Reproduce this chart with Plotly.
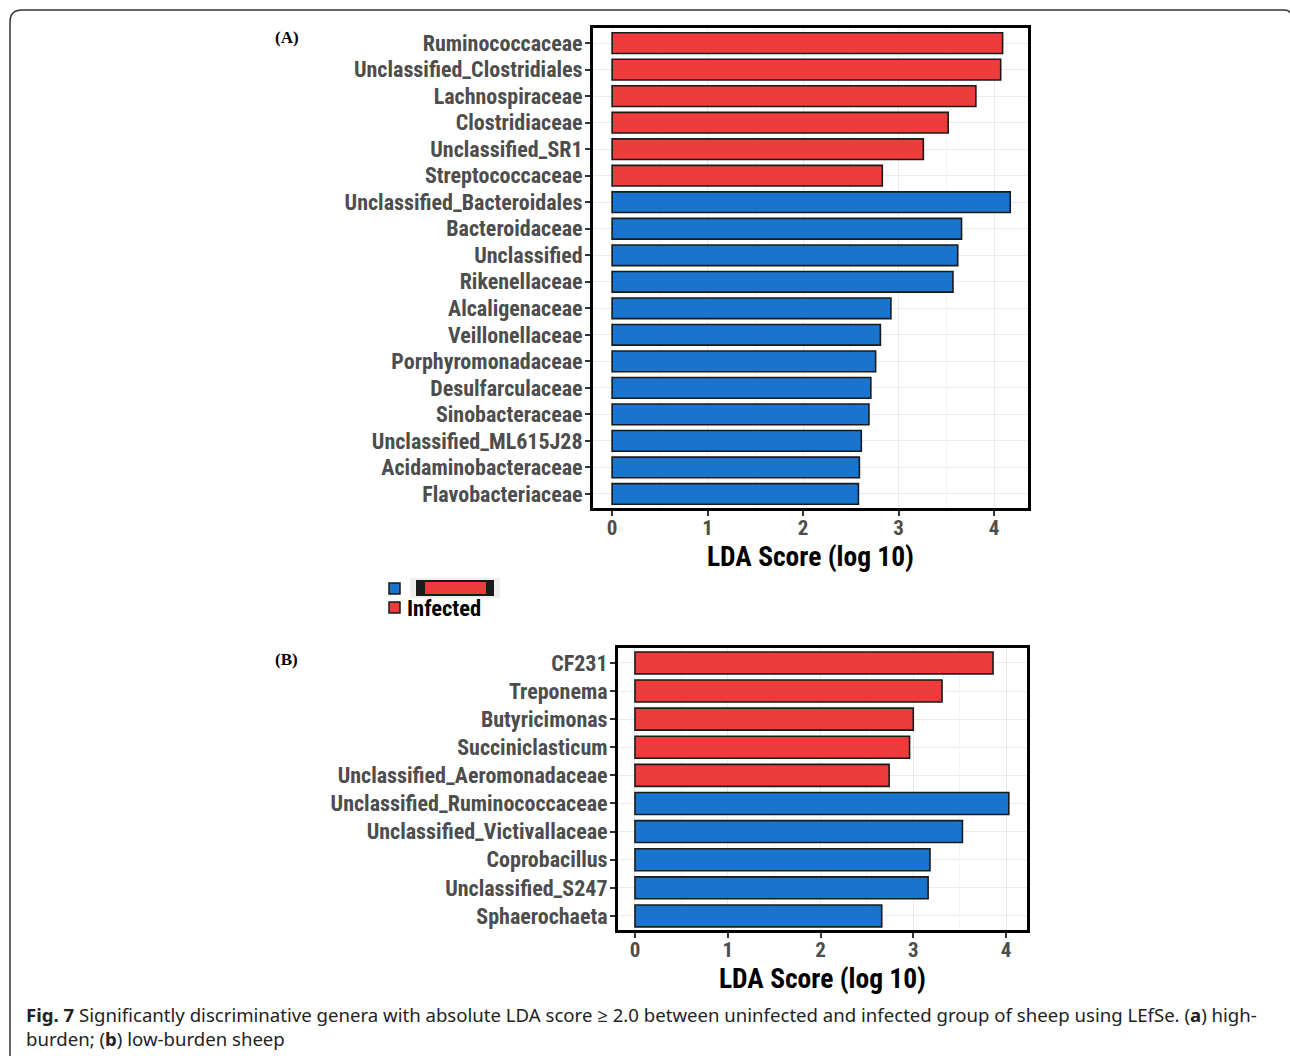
import plotly.graph_objects as go

W, H = 1290, 1056

# Panel A: high-burden sheep
genera_a = [
    "Ruminococcaceae", "Unclassified_Clostridiales", "Lachnospiraceae",
    "Clostridiaceae", "Unclassified_SR1", "Streptococcaceae",
    "Unclassified_Bacteroidales", "Bacteroidaceae", "Unclassified",
    "Rikenellaceae", "Alcaligenaceae", "Veillonellaceae",
    "Porphyromonadaceae", "Desulfarculaceae", "Sinobacteraceae",
    "Unclassified_ML615J28", "Acidaminobacteraceae", "Flavobacteriaceae",
]
lda_a = [4.09, 4.07, 3.81, 3.52, 3.26, 2.83,
         4.17, 3.66, 3.62, 3.57, 2.92, 2.81,
         2.76, 2.71, 2.69, 2.61, 2.59, 2.58]
group_a = ["Infected"] * 6 + ["Uninfected"] * 12

# Panel B: low-burden sheep
genera_b = [
    "CF231", "Treponema", "Butyricimonas", "Succiniclasticum",
    "Unclassified_Aeromonadaceae", "Unclassified_Ruminococcaceae",
    "Unclassified_Victivallaceae", "Coprobacillus", "Unclassified_S247",
    "Sphaerochaeta",
]
lda_b = [3.86, 3.31, 3.00, 2.96, 2.74, 4.03, 3.53, 3.18, 3.16, 2.66]
group_b = ["Infected"] * 5 + ["Uninfected"] * 5

x_ticks = [0, 1, 2, 3, 4]

COLORS = {"Infected": "#EE3B3B", "Uninfected": "#1874CD"}
NARROW = "Liberation Sans Narrow, Arial Narrow, Roboto Condensed, DejaVu Sans Condensed, sans-serif"
GRID = "#EBEBEB"
MINOR = "#F4F4F4"


def fx(x):
    return x / W


def fy(y):
    return 1 - y / H


fig = go.Figure()

panels = [
    (genera_a, lda_a, group_a, "x", "y"),
    (genera_b, lda_b, group_b, "x2", "y2"),
]
for genera, lda, group, xa, ya in panels:
    fig.add_trace(go.Bar(
        x=lda, y=genera, orientation="h", width=0.78,
        marker=dict(color=[COLORS[g] for g in group],
                    line=dict(color="#1a1a1a", width=1.6)),
        xaxis=xa, yaxis=ya, showlegend=False, hoverinfo="x+y",
    ))


def x_axis(domain, rng, anchor):
    return dict(
        domain=domain, range=rng, anchor=anchor, tickvals=x_ticks,
        showgrid=True, gridcolor=GRID, gridwidth=1.2, zeroline=False,
        minor=dict(dtick=0.5, showgrid=True, gridcolor=MINOR, gridwidth=1),
        showline=True, mirror=True, linecolor="black", linewidth=3,
        ticks="outside", ticklen=5, tickwidth=1.5, tickcolor="#333333",
        ticklabelstandoff=-6,
        tickfont=dict(family=NARROW, size=21, color="#4D4D4D", weight="bold"),
        title=dict(text="LDA Score (log 10)", standoff=3,
                   font=dict(family=NARROW, size=27.5, color="black", weight="bold")),
    )


def y_axis(domain, cats, rng, anchor):
    return dict(
        domain=domain, range=rng, anchor=anchor, type="category",
        categoryorder="array", categoryarray=cats,
        showgrid=True, gridcolor=GRID, gridwidth=1.2, zeroline=False,
        showline=True, mirror=True, linecolor="black", linewidth=3,
        ticks="outside", ticklen=5, tickwidth=1.5, tickcolor="#333333",
        ticklabelstandoff=-2,
        tickfont=dict(family=NARROW, size=22, color="#4D4D4D", weight="bold"),
    )


shapes = []

# outer rounded frame
frame = "M {} {} L {} {} Q {} {} {} {} L {} {} Q {} {} {} {}".format(
    fx(10), fy(1056), fx(10), fy(22), fx(10), fy(10), fx(22), fy(10),
    fx(1284), fy(10), fx(1289), fy(10), fx(1290), fy(13))
shapes.append(dict(type="path", xref="paper", yref="paper", path=frame,
                   line=dict(color="#333333", width=1.5)))

# legend keys
shapes.append(dict(type="rect", xref="paper", yref="paper",
                   x0=fx(389), x1=fx(400), y0=fy(594), y1=fy(583),
                   fillcolor=COLORS["Uninfected"], line=dict(color="#1a1a1a", width=1.5)))
shapes.append(dict(type="rect", xref="paper", yref="paper",
                   x0=fx(389), x1=fx(400), y0=fy(613), y1=fy(602),
                   fillcolor=COLORS["Infected"], line=dict(color="#1a1a1a", width=1.5)))
# smeared key glyph beside the first legend entry
shapes.append(dict(type="rect", xref="paper", yref="paper",
                   x0=fx(410), x1=fx(500), y0=fy(598), y1=fy(578),
                   fillcolor="#EEEEEE", line=dict(width=0), layer="above"))
shapes.append(dict(type="rect", xref="paper", yref="paper",
                   x0=fx(416), x1=fx(494), y0=fy(596), y1=fy(580),
                   fillcolor="#1a1a1a", line=dict(width=0), layer="above"))
shapes.append(dict(type="rect", xref="paper", yref="paper",
                   x0=fx(425), x1=fx(486), y0=fy(594), y1=fy(582),
                   fillcolor=COLORS["Infected"], line=dict(width=0), layer="above"))

annotations = [
    dict(text="<b>(A)</b>", x=fx(273), y=fy(37), xref="paper", yref="paper",
         xanchor="left", yanchor="middle", showarrow=False,
         font=dict(family="Liberation Serif, Times New Roman, serif", size=17, color="black")),
    dict(text="<b>(B)</b>", x=fx(273), y=fy(659), xref="paper", yref="paper",
         xanchor="left", yanchor="middle", showarrow=False,
         font=dict(family="Liberation Serif, Times New Roman, serif", size=17, color="black")),
    dict(text="Infected", x=fx(405), y=fy(608), xref="paper", yref="paper",
         xanchor="left", yanchor="middle", showarrow=False,
         font=dict(family=NARROW, size=22.5, color="black", weight="bold")),
    dict(text=("<b>Fig. 7</b> Significantly discriminative genera with absolute LDA score \u2265 2.0 "
               "between uninfected and infected group of sheep using LEfSe. (<b>a</b>) high-<br>"
               "burden; (<b>b</b>) low-burden sheep"),
         x=fx(24), y=fy(1000), xref="paper", yref="paper", xanchor="left", yanchor="top",
         align="left", showarrow=False,
         font=dict(family="Noto Sans, Open Sans, sans-serif", size=18.6, color="#222222")),
]

fig.update_layout(
    width=W, height=H, margin=dict(l=0, r=0, t=0, b=0),
    paper_bgcolor="white", plot_bgcolor="white", bargap=0.2,
    xaxis=x_axis([fx(593), fx(1028)], [-0.2, 4.356], "y"),
    yaxis=y_axis([fy(508), fy(28)], genera_a, [17.53, -0.57], "x"),
    xaxis2=x_axis([fx(618), fx(1027)], [-0.183, 4.226], "y2"),
    yaxis2=y_axis([fy(930), fy(648)], genera_b, [9.5, -0.53], "x2"),
    shapes=shapes, annotations=annotations,
)

fig.write_html("out.html")
